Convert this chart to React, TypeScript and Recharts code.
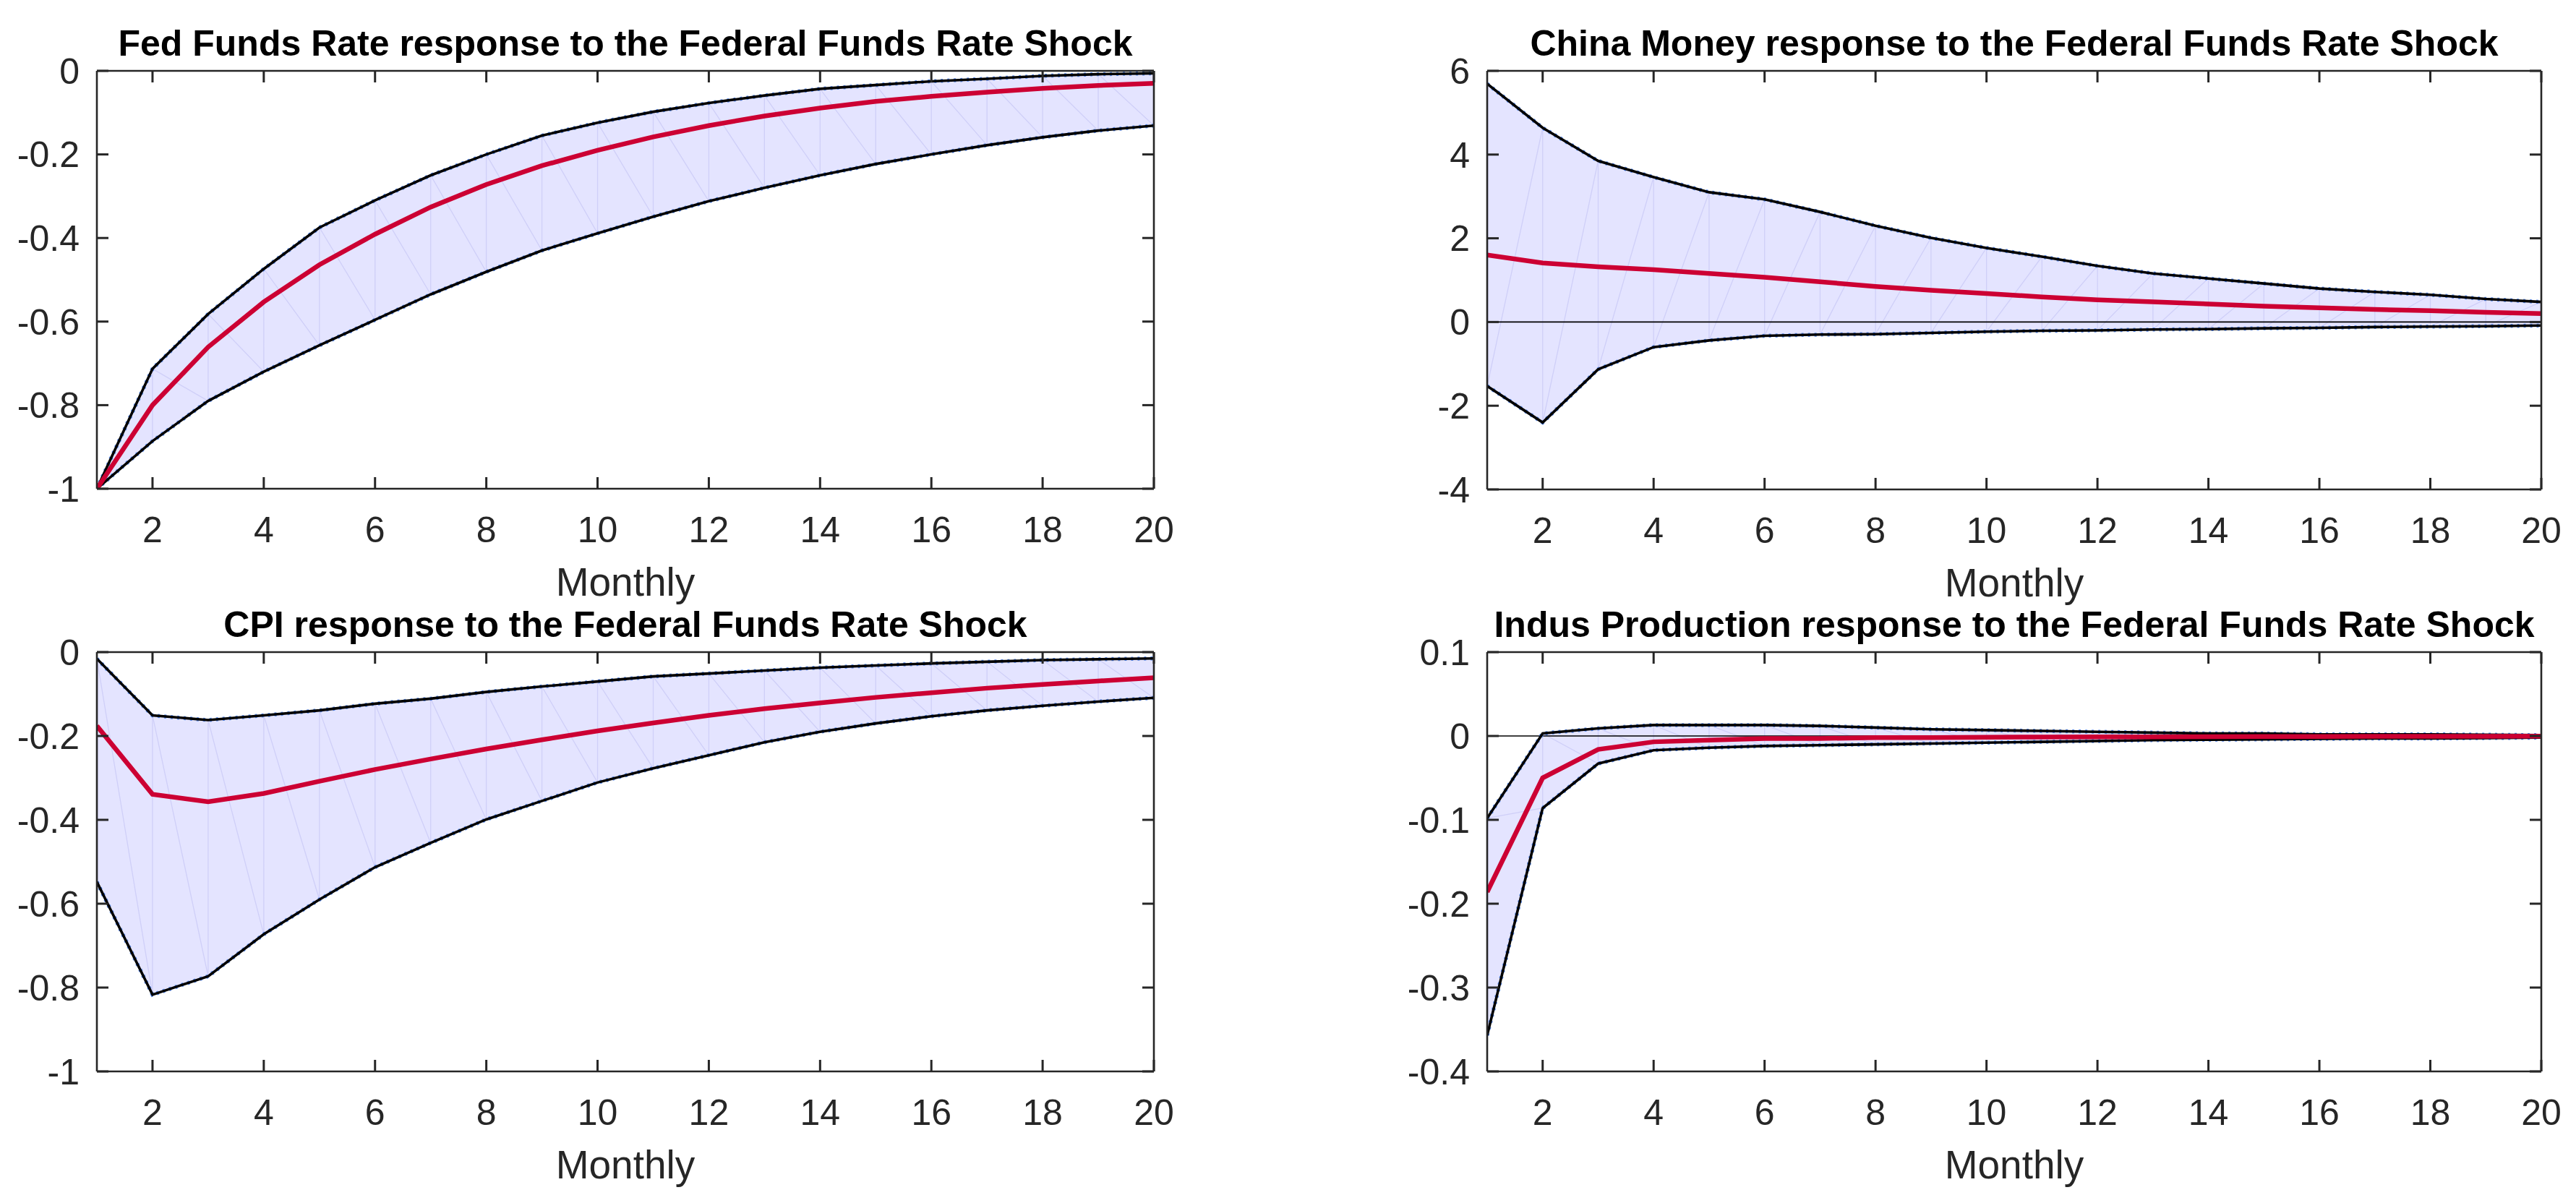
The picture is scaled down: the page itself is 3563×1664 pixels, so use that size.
import React from 'react';
import {
  ComposedChart,
  Line,
  Area,
  XAxis,
  YAxis,
  ReferenceLine,
} from 'recharts';

// ---------- data ----------
const months = [1, 2, 3, 4, 5, 6, 7, 8, 9, 10, 11, 12, 13, 14, 15, 16, 17, 18, 19, 20];
const xTicks = [2, 4, 6, 8, 10, 12, 14, 16, 18, 20];

const fedUpper = [-1, -0.713, -0.582, -0.474, -0.375, -0.31, -0.25, -0.2, -0.155, -0.124, -0.098, -0.077, -0.059, -0.043, -0.034, -0.025, -0.019, -0.012, -0.008, -0.006];
const fedMedian = [-1, -0.8, -0.661, -0.553, -0.464, -0.391, -0.326, -0.272, -0.227, -0.19, -0.158, -0.131, -0.108, -0.089, -0.073, -0.061, -0.051, -0.042, -0.035, -0.03];
const fedLower = [-1, -0.886, -0.79, -0.72, -0.657, -0.596, -0.535, -0.481, -0.43, -0.389, -0.349, -0.312, -0.28, -0.25, -0.223, -0.2, -0.178, -0.159, -0.143, -0.131];
const fedTicks = [0, -0.2, -0.4, -0.6, -0.8, -1];

const cnUpper = [5.69, 4.64, 3.85, 3.46, 3.1, 2.93, 2.63, 2.3, 2.01, 1.77, 1.56, 1.34, 1.16, 1.04, 0.92, 0.8, 0.72, 0.65, 0.55, 0.48];
const cnMedian = [1.6, 1.41, 1.32, 1.25, 1.16, 1.07, 0.96, 0.85, 0.76, 0.68, 0.6, 0.53, 0.48, 0.43, 0.38, 0.34, 0.3, 0.27, 0.23, 0.2];
const cnLower = [-1.53, -2.4, -1.13, -0.6, -0.44, -0.33, -0.3, -0.29, -0.26, -0.23, -0.21, -0.2, -0.18, -0.17, -0.15, -0.14, -0.12, -0.11, -0.1, -0.085];
const cnTicks = [6, 4, 2, 0, -2, -4];

const cpiUpper = [-0.016, -0.151, -0.162, -0.151, -0.139, -0.123, -0.111, -0.095, -0.082, -0.07, -0.058, -0.051, -0.044, -0.037, -0.032, -0.027, -0.023, -0.019, -0.017, -0.015];
const cpiMedian = [-0.176, -0.339, -0.357, -0.337, -0.308, -0.28, -0.255, -0.231, -0.209, -0.188, -0.169, -0.151, -0.135, -0.121, -0.108, -0.097, -0.086, -0.077, -0.069, -0.061];
const cpiLower = [-0.548, -0.817, -0.773, -0.673, -0.59, -0.513, -0.455, -0.399, -0.355, -0.311, -0.277, -0.246, -0.215, -0.19, -0.17, -0.153, -0.139, -0.128, -0.118, -0.109];
const cpiTicks = [0, -0.2, -0.4, -0.6, -0.8, -1];

const ipUpper = [-0.098, 0.003, 0.009, 0.013, 0.013, 0.013, 0.012, 0.01, 0.008, 0.007, 0.006, 0.005, 0.004, 0.003, 0.003, 0.002, 0.002, 0.002, 0.0015, 0.001];
const ipMedian = [-0.186, -0.05, -0.016, -0.007, -0.005, -0.003, -0.003, -0.002, -0.002, -0.0015, -0.0012, -0.001, -0.001, -0.0008, -0.0007, -0.0006, -0.0005, -0.0004, -0.0004, -0.0003];
const ipLower = [-0.357, -0.086, -0.033, -0.017, -0.014, -0.012, -0.011, -0.01, -0.009, -0.008, -0.007, -0.006, -0.005, -0.0045, -0.004, -0.0035, -0.003, -0.003, -0.0025, -0.002];
const ipTicks = [0.1, 0, -0.1, -0.2, -0.3, -0.4];

const titles = [
  'Fed Funds Rate response to the Federal Funds Rate Shock',
  'China Money response to the Federal Funds Rate Shock',
  'CPI response to the Federal Funds Rate Shock',
  'Indus Production response to the Federal Funds Rate Shock',
];
const xLabel = 'Monthly';

// ---------- styling ----------
const FONT = '"Liberation Sans", Arial, Helvetica, sans-serif';
const AXIS = '#262626';
const FILL = '#E4E4FF';
const TRI = '#CFCFF8';
const RED = '#CC0033';
const TICK_PX = 16;

type PanelProps = {
  pl: number; pt: number; pr: number; pb: number;
  upper: number[]; median: number[]; lower: number[];
  ticks: number[];
  domain: [number, number];
  title: string;
  slash: boolean;
  zeroLine: boolean;
};

const Y_W = 150;
const M_T = 40;
const TOP_H = 1;
const RIGHT_W = 1;
const M_R = 70;
const BOTTOM_H = 110;

function fmt(v: number) {
  return String(Number(v.toFixed(3)));
}

function Panel(p: PanelProps) {
  const plotW = p.pr - p.pl;
  const plotH = p.pb - p.pt;
  const width = Y_W + plotW + RIGHT_W + M_R;
  const height = M_T + TOP_H + plotH + BOTTOM_H;
  const left = p.pl - Y_W;
  const top = p.pt - M_T - TOP_H;

  const x0 = months[0];
  const x1 = months[months.length - 1];
  const [yMin, yMax] = p.domain;
  // tick length expressed in data units of each axis
  const dx = (TICK_PX * (x1 - x0)) / plotW;
  const dy = (TICK_PX * (yMax - yMin)) / plotH;

  const data = months.map((m, i) => ({
    x: m,
    band: [p.lower[i], p.upper[i]],
    upper: p.upper[i],
    lower: p.lower[i],
    median: p.median[i],
  }));

  // triangulation-like faint edges inside the band (MATLAB fill artefact)
  const zig: { x: number; y: number }[] = [];
  months.forEach((m, i) => {
    if (p.slash) {
      zig.push({ x: m, y: p.upper[i] });
      zig.push({ x: m, y: p.lower[i] });
    } else {
      zig.push({ x: m, y: p.lower[i] });
      zig.push({ x: m, y: p.upper[i] });
    }
  });

  const tickStyle = { fontSize: 50, fontFamily: FONT, fill: AXIS };
  const tickLineProps = { stroke: AXIS, strokeWidth: 3 };

  return (
    <div style={{ position: 'absolute', left, top, width, height }}>
      <ComposedChart
        width={width}
        height={height}
        data={data}
        margin={{ top: M_T, right: M_R, bottom: 0, left: 0 }}
      >
        <XAxis
          xAxisId={0}
          dataKey="x"
          type="number"
          domain={[x0, x1]}
          ticks={xTicks}
          height={BOTTOM_H}
          axisLine={{ stroke: AXIS, strokeWidth: 2.6 }}
          tickLine={tickLineProps}
          tickSize={-TICK_PX}
          tickMargin={54}
          tick={tickStyle}
          interval={0}
          allowDataOverflow
        />
        <XAxis
          xAxisId="t"
          orientation="top"
          dataKey="x"
          type="number"
          domain={[x0, x1]}
          ticks={xTicks}
          height={TOP_H}
          axisLine={{ stroke: AXIS, strokeWidth: 2.6 }}
          tickLine={false}
          tick={false}
          interval={0}
          allowDataOverflow
        />
        <YAxis
          yAxisId={0}
          type="number"
          domain={p.domain}
          ticks={p.ticks}
          width={Y_W}
          axisLine={{ stroke: AXIS, strokeWidth: 2.6 }}
          tickLine={tickLineProps}
          tickSize={-TICK_PX}
          tickMargin={40}
          tick={tickStyle}
          tickFormatter={fmt}
          interval={0}
          allowDataOverflow
        />
        <YAxis
          yAxisId="r"
          orientation="right"
          type="number"
          domain={p.domain}
          ticks={p.ticks}
          width={RIGHT_W}
          axisLine={{ stroke: AXIS, strokeWidth: 2.6 }}
          tickLine={false}
          tick={false}
          interval={0}
          allowDataOverflow
        />
        <Area dataKey="band" type="linear" fill={FILL} fillOpacity={1} stroke="none" isAnimationActive={false} activeDot={false} />
        <Line data={zig} dataKey="y" type="linear" stroke={TRI} strokeWidth={1.3} dot={false} activeDot={false} isAnimationActive={false} />
        {p.zeroLine && <ReferenceLine y={0} stroke="#000" strokeWidth={1.6} ifOverflow="hidden" />}
        <Line dataKey="upper" type="linear" stroke="#5B8CEF" strokeWidth={5.5} strokeDasharray="3 6" dot={false} activeDot={false} isAnimationActive={false} />
        <Line dataKey="lower" type="linear" stroke="#5B8CEF" strokeWidth={5.5} strokeDasharray="3 6" dot={false} activeDot={false} isAnimationActive={false} />
        <Line dataKey="upper" type="linear" stroke="#000" strokeWidth={3.6} dot={false} activeDot={false} isAnimationActive={false} />
        <Line dataKey="lower" type="linear" stroke="#000" strokeWidth={3.6} dot={false} activeDot={false} isAnimationActive={false} />
        <Line dataKey="median" type="linear" stroke={RED} strokeWidth={6.5} dot={false} activeDot={false} isAnimationActive={false} />
        {/* inward ticks on the top and right sides of the box */}
        {xTicks.map((t) => (
          <ReferenceLine key={'t' + t} segment={[{ x: t, y: yMax }, { x: t, y: yMax - dy }]} {...tickLineProps} ifOverflow="visible" />
        ))}
        {p.ticks.map((t) => (
          <ReferenceLine key={'r' + t} segment={[{ x: x1 - dx, y: t }, { x: x1, y: t }]} {...tickLineProps} ifOverflow="visible" />
        ))}
      </ComposedChart>
    </div>
  );
}

const panels: PanelProps[] = [
  { pl: 134, pt: 98, pr: 1596, pb: 676, upper: fedUpper, median: fedMedian, lower: fedLower, ticks: fedTicks, domain: [-1, 0], title: titles[0], slash: false, zeroLine: false },
  { pl: 2057, pt: 98, pr: 3515, pb: 677, upper: cnUpper, median: cnMedian, lower: cnLower, ticks: cnTicks, domain: [-4, 6], title: titles[1], slash: true, zeroLine: true },
  { pl: 134, pt: 902, pr: 1596, pb: 1482, upper: cpiUpper, median: cpiMedian, lower: cpiLower, ticks: cpiTicks, domain: [-1, 0], title: titles[2], slash: false, zeroLine: false },
  { pl: 2057, pt: 902, pr: 3515, pb: 1482, upper: ipUpper, median: ipMedian, lower: ipLower, ticks: ipTicks, domain: [-0.4, 0.1], title: titles[3], slash: false, zeroLine: true },
];

export default function App() {
  return (
    <div style={{ position: 'absolute', left: 0, top: 0, width: 3563, height: 1664, background: '#fff', overflow: 'hidden' }}>
      {panels.map((p, i) => (
        <Panel key={i} {...p} />
      ))}
      <svg width={3563} height={1664} style={{ position: 'absolute', left: 0, top: 0, pointerEvents: 'none' }}>
        {panels.map((p, i) => (
          <g key={i}>
            <text x={(p.pl + p.pr) / 2} y={p.pt - 21} textAnchor="middle" fontFamily={FONT} fontWeight="bold" fontSize={50} fill="#000">
              {p.title}
            </text>
            <text x={(p.pl + p.pr) / 2} y={p.pb + 148} textAnchor="middle" fontFamily={FONT} fontSize={55} fill={AXIS}>
              {xLabel}
            </text>
          </g>
        ))}
      </svg>
    </div>
  );
}
